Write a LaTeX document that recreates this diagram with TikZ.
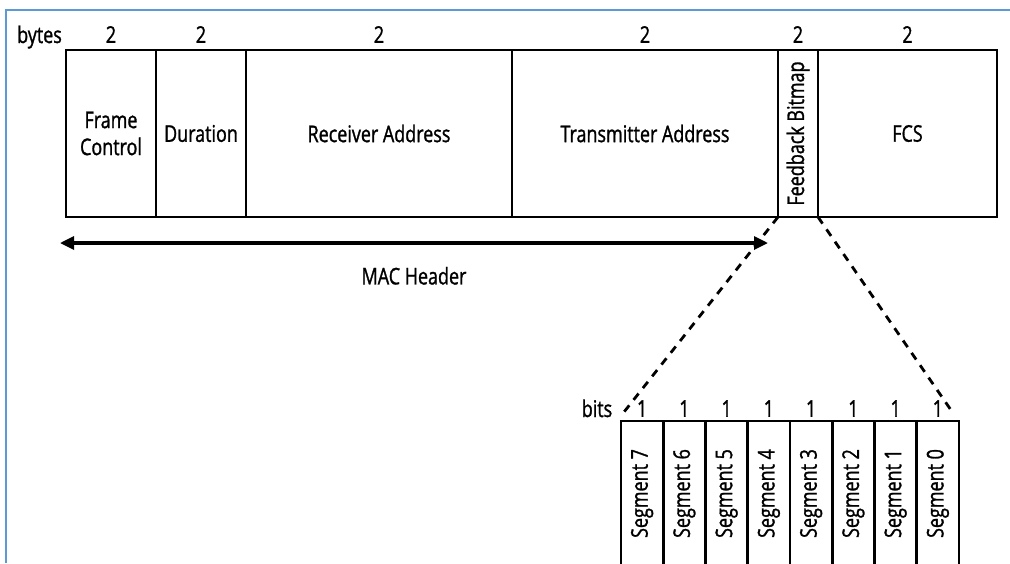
\documentclass[tikz,border=0pt]{standalone}
\usepackage{fontspec}
\setmainfont{Open Sans}[FakeStretch=0.78, FakeBold=1.2]
\usepackage{graphicx}
\usetikzlibrary{arrows.meta, positioning}
\definecolor{rahmenblau}{RGB}{91,155,213}

\begin{document}
\begin{tikzpicture}[
  x=1pt, y=-1pt,
  every node/.style={font=\fontsize{23}{27}\selectfont},
  feld/.style={
    rectangle, draw=black, line width=2.8pt, outer sep=0pt,
    inner sep=0pt, minimum height=167pt, align=center
  },
  segment/.style={
    rectangle, draw=black, line width=2.8pt, outer sep=0pt,
    inner sep=0pt, minimum width=42.25pt, minimum height=145pt
  },
  zahl/.style={inner sep=0pt},
  doppelpfeil/.style={
    {Triangle[length=14pt,width=13pt]}-{Triangle[length=14pt,width=13pt]},
    line width=3.2pt
  },
  zoomlinie/.style={line width=2.8pt, dash pattern=on 8pt off 7pt}
]

\clip (0,0) rectangle (1010,563);
\draw[rahmenblau, line width=2pt] (6,563) -- (6,10) -- (1010,10);

% Rahmenfelder
\node[feld, minimum width=90pt]  (fc)  at (111,133.5) {Frame\\Control};
\node[feld, minimum width=90pt]  (dur) [right=0pt of fc]  {Duration};
\node[feld, minimum width=266pt] (ra)  [right=0pt of dur] {Receiver Address};
\node[feld, minimum width=266pt] (ta)  [right=0pt of ra]  {Transmitter Address};
\node[feld, minimum width=40pt]  (fb)  [right=0pt of ta]  {\rotatebox{90}{Feedback Bitmap}};
\node[feld, minimum width=179pt] (fcs) [right=0pt of fb]  {FCS};

\node[zahl, anchor=base west] (bytes) at (17,43) {bytes};
\node[zahl] (z1) [above=7pt of fc]  {2};
\node[zahl] (z2) [above=7pt of dur] {2};
\node[zahl] (z3) [above=7pt of ra]  {2};
\node[zahl] (z4) [above=7pt of ta]  {2};
\node[zahl] (z5) [above=7pt of fb]  {2};
\node[zahl] (z6) [above=7pt of fcs] {2};

\coordinate (macL) at (60,243);
\coordinate (macR) at (768,243);
\draw[doppelpfeil] (macL) -- node[below=19pt] (mac) {MAC Header} (macR);

% Bitmap
\node[segment] (s7) at (642.1,493.5) {\rotatebox{90}{Segment 7}};
\node[segment] (s6) [right=0pt of s7] {\rotatebox{90}{Segment 6}};
\node[segment] (s5) [right=0pt of s6] {\rotatebox{90}{Segment 5}};
\node[segment] (s4) [right=0pt of s5] {\rotatebox{90}{Segment 4}};
\node[segment] (s3) [right=0pt of s4] {\rotatebox{90}{Segment 3}};
\node[segment] (s2) [right=0pt of s3] {\rotatebox{90}{Segment 2}};
\node[segment] (s1) [right=0pt of s2] {\rotatebox{90}{Segment 1}};
\node[segment] (s0) [right=0pt of s1] {\rotatebox{90}{Segment 0}};

\node[zahl, anchor=base] (bits) at (597,417) {bits};
\node[zahl] (e7) [above=4pt of s7] {1};
\node[zahl] (e6) [above=4pt of s6] {1};
\node[zahl] (e5) [above=4pt of s5] {1};
\node[zahl] (e4) [above=4pt of s4] {1};
\node[zahl] (e3) [above=4pt of s3] {1};
\node[zahl] (e2) [above=4pt of s2] {1};
\node[zahl] (e1) [above=4pt of s1] {1};
\node[zahl] (e0) [above=4pt of s0] {1};

\coordinate (zl) at (624,412);
\coordinate (zr) at (953,413);
\draw[zoomlinie] (fb.south west) -- (zl);
\draw[zoomlinie] (fb.south east) -- (zr);

\end{tikzpicture}
\end{document}
